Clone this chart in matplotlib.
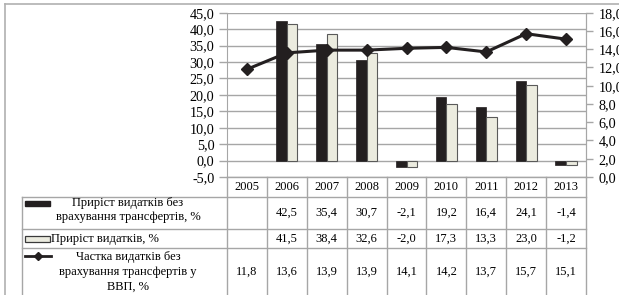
import matplotlib
matplotlib.use('Agg')
import matplotlib.pyplot as plt
from matplotlib.patches import Rectangle
from matplotlib.lines import Line2D
import numpy as np

years = ['2005', '2006', '2007', '2008', '2009', '2010', '2011', '2012', '2013']
growth_no_transfers = [np.nan, 42.5, 35.4, 30.7, -2.1, 19.2, 16.4, 24.1, -1.4]
growth_total = [np.nan, 41.5, 38.4, 32.6, -2.0, 17.3, 13.3, 23.0, -1.2]
share_gdp = [11.8, 13.6, 13.9, 13.9, 14.1, 14.2, 13.7, 15.7, 15.1]
row_labels = ['Приріст видатків без\nврахування трансфертів, %',
              'Приріст видатків, %',
              'Частка видатків без\nврахування трансфертів у\nВВП, %']
left_ticks = np.arange(-5, 45.1, 5)
right_ticks = np.arange(0, 18.1, 2)

plt.rcParams['font.family'] = ['Liberation Serif', 'DejaVu Serif']
FS = 9
TFS = 10.2
DARK = '#231f20'
LIGHT = '#ebebdf'
GRID = '#a6a6a6'

W, H = 619, 295
fig = plt.figure(figsize=(W / 100, H / 100), dpi=100)

def fx(px):
    return px / W

def fy(py):
    return 1 - py / H

# outer frame
fig.add_artist(Line2D([fx(5), 1], [fy(4), fy(4)], color='#b0b0b0', lw=1.2))
fig.add_artist(Line2D([fx(5), fx(5)], [fy(4), 0], color='#b0b0b0', lw=1.2))

L, R, T, B = 227, 586, 12.7, 177
ax = fig.add_axes([fx(L), fy(B), fx(R) - fx(L), fy(T) - fy(B)])
x = np.arange(len(years))
bw = 0.265
ax.bar(x - bw / 2, growth_no_transfers, bw, color=DARK, edgecolor=DARK, lw=0.5, zorder=3)
ax.bar(x + bw / 2, growth_total, bw, color=LIGHT, edgecolor='#5a5a5a', lw=0.8, zorder=3)
ax.set_xlim(-0.5, len(years) - 0.5)
ax.set_ylim(-5, 45)
ax.set_yticks(left_ticks)
ax.set_yticklabels([f'{v:.1f}'.replace('.', ',') for v in left_ticks], fontsize=TFS)
ax.set_xticks([])
ax.yaxis.grid(True, color=GRID, lw=1.0, zorder=0)
ax.set_axisbelow(True)
for s in ['top', 'bottom']:
    ax.spines[s].set_visible(False)
for s in ['left', 'right']:
    ax.spines[s].set_color(GRID)
ax.tick_params(axis='y', colors=GRID, labelcolor='black', length=6, width=1, pad=3)
ax.patch.set_visible(False)

ax2 = ax.twinx()
ax2.plot(x, share_gdp, color=DARK, lw=2.2, marker='D', markersize=6, zorder=5)
ax2.set_ylim(0, 18)
ax2.set_yticks(right_ticks)
ax2.set_yticklabels([f'{v:.1f}'.replace('.', ',') for v in right_ticks], fontsize=TFS)
for s in ['top', 'bottom', 'left']:
    ax2.spines[s].set_visible(False)
ax2.spines['right'].set_color(GRID)
ax2.tick_params(axis='y', colors=GRID, labelcolor='black', length=5, width=1, pad=4)

# table
tax = fig.add_axes([fx(L), 0, fx(R) - fx(L), fy(B)])
tax.set_xlim(-0.5, len(years) - 0.5)
tax.set_ylim(H, B)
tax.axis('off')
n = len(years)
pxu = (R - L) / n  # pixels per category

def px2x(px):
    return -0.5 + (px - L) / pxu

xl = px2x(22)
row_edges = [177, 197, 229, 248, 302]
kw = dict(color=GRID, lw=1.0, clip_on=False)
tax.plot([-0.5, n - 0.5], [row_edges[0]] * 2, **kw)
for ye in row_edges[1:]:
    tax.plot([xl, n - 0.5], [ye] * 2, **kw)
for i in range(n + 1):
    tax.plot([i - 0.5] * 2, [row_edges[0], row_edges[-1]], **kw)
tax.plot([xl] * 2, [row_edges[1], row_edges[-1]], **kw)

def fmt(v):
    return '' if np.isnan(v) else f'{v:.1f}'.replace('.', ',')

for i, y in enumerate(years):
    tax.text(i, 187, y, ha='center', va='center', fontsize=FS, clip_on=False)
    tax.text(i, 213, fmt(growth_no_transfers[i]), ha='center', va='center', fontsize=FS, clip_on=False)
    tax.text(i, 239, fmt(growth_total[i]), ha='center', va='center', fontsize=FS, clip_on=False)
    tax.text(i, 272, fmt(share_gdp[i]), ha='center', va='center', fontsize=FS, clip_on=False)

# legend keys
tax.add_patch(Rectangle((px2x(25), 201), 25 / pxu, 5, facecolor=DARK, edgecolor=DARK, clip_on=False))
tax.add_patch(Rectangle((px2x(25), 236), 25 / pxu, 6, facecolor=LIGHT, edgecolor='#3a3a3a', lw=0.9, clip_on=False))
tax.plot([px2x(25), px2x(51)], [256, 256], color=DARK, lw=2, clip_on=False)
tax.plot([px2x(38)], [256], color=DARK, marker='D', markersize=4.5, clip_on=False)

tax.text(px2x(128), 210, row_labels[0], ha='center', va='center', fontsize=FS,
         linespacing=1.2, clip_on=False)
tax.text(px2x(51), 239, row_labels[1], ha='left', va='center', fontsize=FS, clip_on=False)
tax.text(px2x(128), 272, row_labels[2], ha='center', va='center', fontsize=FS,
         linespacing=1.28, clip_on=False)

fig.savefig('out.png', dpi=100)
